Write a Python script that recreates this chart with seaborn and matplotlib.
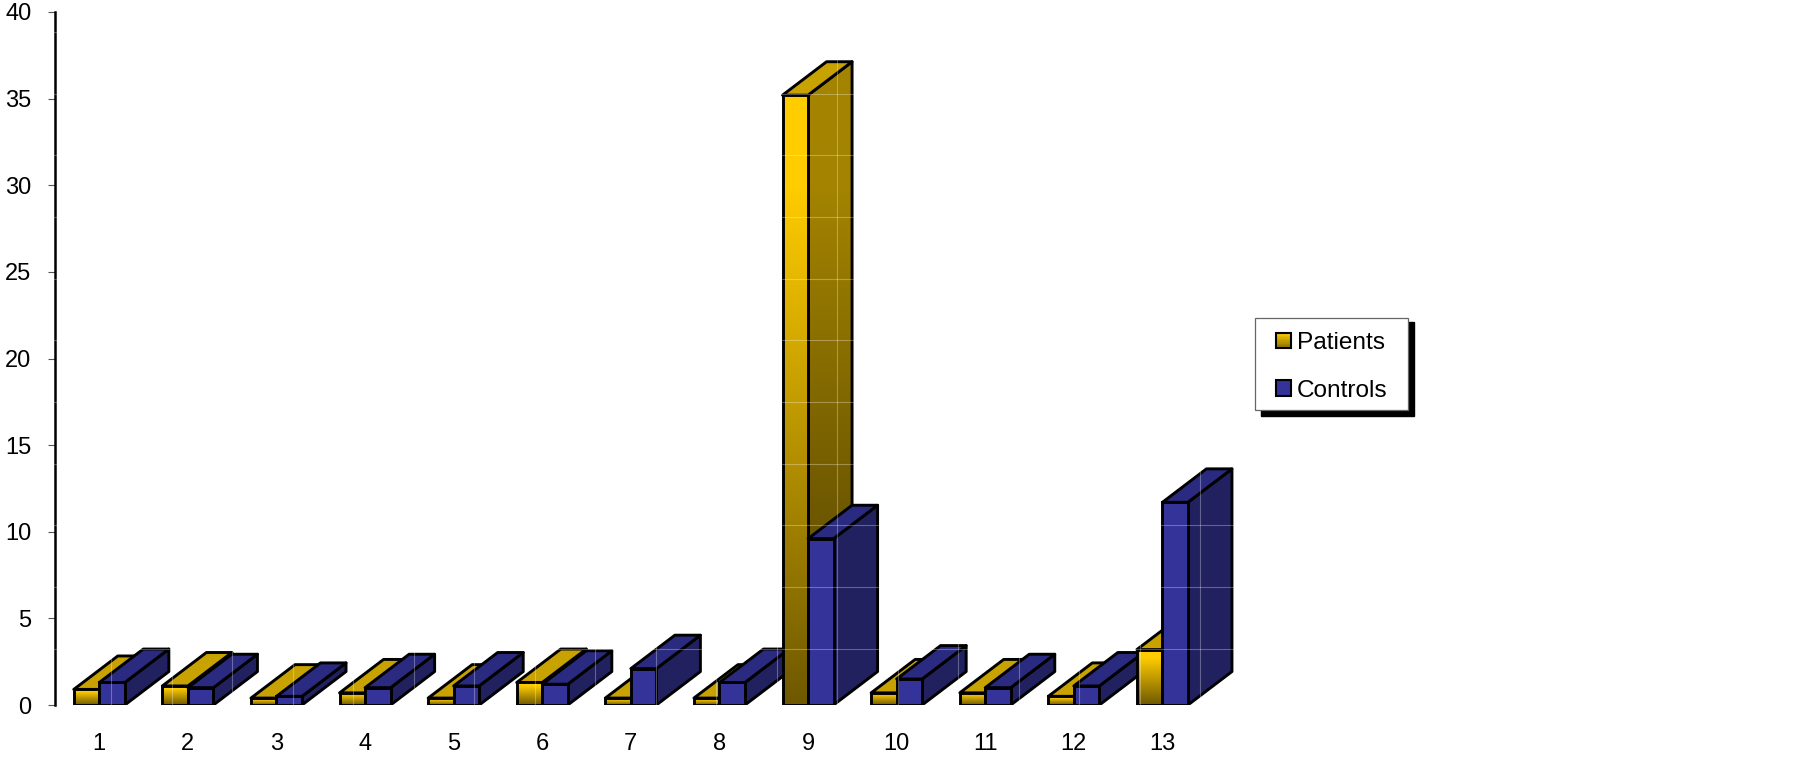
import numpy as np
import pandas as pd
import matplotlib
matplotlib.use("Agg")
import matplotlib.pyplot as plt
from matplotlib.colors import LinearSegmentedColormap
from matplotlib.legend_handler import HandlerBase
from matplotlib.patches import Patch, Polygon, Rectangle
import seaborn as sns

# Values
cases = ["1", "2", "3", "4", "5", "6", "7", "8", "9", "10", "11", "12", "13"]
patients = [0.9, 1.1, 0.4, 0.7, 0.4, 1.3, 0.4, 0.4, 35.2, 0.7, 0.7, 0.5, 3.2]
controls = [1.3, 1.0, 0.5, 1.0, 1.1, 1.2, 2.1, 1.3, 9.6, 1.5, 1.0, 1.1, 11.7]
groups = ["Patients", "Controls"]
y_ticks = [0, 5, 10, 15, 20, 25, 30, 35, 40]

WIDTH, HEIGHT = 1799, 757
FONT = "Liberation Sans"
EDGE = 2.1

# Fake 3D depth of the bars, in data units
DEPTH_X = 0.497
DEPTH_Y = 1.93

front_gold = LinearSegmentedColormap.from_list(
    "front_gold", [(0, "#FFCC00"), (0.15, "#FFCC00"), (1, "#6E5800")])
side_gold = LinearSegmentedColormap.from_list(
    "side_gold", [(0, "#A38300"), (0.2, "#A38300"), (1, "#4F3F00")])
front_blue = "#333399"
top_gold = "#C8A200"
top_blue = "#2A2A80"
side_blue = "#212160"

sns.set_theme(style="white")
plt.rcParams["font.family"] = [FONT, "DejaVu Sans"]

df = pd.DataFrame({
    "Case": cases * 2,
    "Group": [groups[0]] * len(cases) + [groups[1]] * len(cases),
    "Value": patients + controls,
})

fig = plt.figure(figsize=(WIDTH / 100, HEIGHT / 100), dpi=100)
ax = fig.add_axes([55 / WIDTH, 1 - 705 / HEIGHT, 1196 / WIDTH, 693 / HEIGHT])

sns.barplot(data=df, x="Case", y="Value", hue="Group", order=cases, hue_order=groups,
            palette=["#FFCC00", front_blue], saturation=1, width=0.576, gap=0, dodge=True,
            edgecolor="black", linewidth=EDGE, legend=False, ax=ax)


def gradient(cmap, extent, clip, zorder):
    grad = np.linspace(0, 1, 256).reshape(-1, 1)
    im = ax.imshow(grad, cmap=cmap, extent=extent, aspect="auto", origin="upper",
                   vmin=0, vmax=1, zorder=zorder)
    im.set_clip_path(Polygon(clip, closed=True, transform=ax.transData))


# Build the side and top faces from the bars seaborn drew
for g, container in enumerate(ax.containers):
    for i, bar in enumerate(container.patches):
        x0 = bar.get_x()
        x1 = x0 + bar.get_width()
        h = bar.get_height()
        base = 3 + i + g * 0.5
        side = [(x1, 0), (x1 + DEPTH_X, DEPTH_Y), (x1 + DEPTH_X, h + DEPTH_Y), (x1, h)]
        top = [(x0, h), (x1, h), (x1 + DEPTH_X, h + DEPTH_Y), (x0 + DEPTH_X, h + DEPTH_Y)]
        if g == 0:
            gradient(side_gold, (x1, x1 + DEPTH_X, 0, h + DEPTH_Y), side, base)
            gradient(front_gold, (x0, x1, 0, h), [(x0, 0), (x1, 0), (x1, h), (x0, h)], base + 0.2)
            bar.set_facecolor("none")
            side_color = "none"
        else:
            side_color = side_blue
        ax.add_patch(Polygon(side, closed=True, facecolor=side_color, edgecolor="black",
                             linewidth=EDGE, joinstyle="round", zorder=base + 0.1))
        ax.add_patch(Polygon(top, closed=True, facecolor=top_gold if g == 0 else top_blue,
                             edgecolor="black", linewidth=EDGE, joinstyle="round", zorder=base + 0.1))
        bar.set_zorder(base + 0.3)

ax.set_xlim(-0.5, 13)
ax.set_ylim(0, 40)

# Faint white wall grid that shows through the bars
for px in np.arange(32, 700, 61.67):
    ax.plot([-0.56, 13], [(705 - px) / 17.325] * 2, color="white", alpha=0.3, lw=0.8,
            clip_on=False, zorder=50)
for px in np.arange(111, 1210, 60.5):
    ax.plot([(px - 99) / 88.6] * 2, [0, 40], color="white", alpha=0.3, lw=0.8, zorder=50)

sns.despine(ax=ax, bottom=True)
ax.spines["left"].set_linewidth(1.8)
ax.spines["left"].set_color("black")
ax.set_yticks(y_ticks)
ax.set_xlabel("")
ax.set_ylabel("")
ax.tick_params(axis="y", left=True, length=5, width=0.8, color="#555555", pad=12, labelsize=17,
               labelcolor="black")
ax.tick_params(axis="x", bottom=False, length=0, pad=20, labelsize=17, labelcolor="black")


class SwatchHandler(HandlerBase):
    def __init__(self, cmap):
        super().__init__()
        self.cmap = cmap

    def create_artists(self, legend, orig_handle, xdescent, ydescent, width, height, fontsize, trans):
        artists = []
        strips = 10
        for k in range(strips):
            artists.append(Rectangle((-xdescent, -ydescent + height * (1 - (k + 1) / strips)),
                                     width, height / strips, facecolor=self.cmap(k / (strips - 1)),
                                     edgecolor="none", transform=trans))
        artists.append(Rectangle((-xdescent, -ydescent), width, height, facecolor="none",
                                 edgecolor="black", linewidth=1.5, transform=trans))
        return artists


# Legend box and its hard shadow
fig.add_artist(Rectangle((1261 / WIDTH, 1 - 416 / HEIGHT), 153 / WIDTH, 94 / HEIGHT,
                         transform=fig.transFigure, facecolor="black", edgecolor="black", zorder=1))
fig.add_artist(Rectangle((1255 / WIDTH, 1 - 410 / HEIGHT), 153 / WIDTH, 92 / HEIGHT,
                         transform=fig.transFigure, facecolor="white", edgecolor="#666666",
                         linewidth=0.9, zorder=2))

patch_p = Patch(label=groups[0])
patch_c = Patch(label=groups[1])
legend_gold = LinearSegmentedColormap.from_list("legend_gold", ["#FFCC00", "#8A7000"])
legend_blue = LinearSegmentedColormap.from_list("legend_blue", [front_blue, front_blue])
leg = fig.legend(handles=[patch_p, patch_c],
                 handler_map={patch_p: SwatchHandler(legend_gold), patch_c: SwatchHandler(legend_blue)},
                 loc="upper left", bbox_to_anchor=(1276 / WIDTH, 1 - 332 / HEIGHT),
                 bbox_transform=fig.transFigure, borderaxespad=0, borderpad=0, fontsize=17.6,
                 frameon=False, labelspacing=1.05, handlelength=0.61, handleheight=0.61,
                 handletextpad=0.25, labelcolor="black")
leg.set_zorder(5)

fig.savefig("out.png", dpi=100, facecolor="white")
